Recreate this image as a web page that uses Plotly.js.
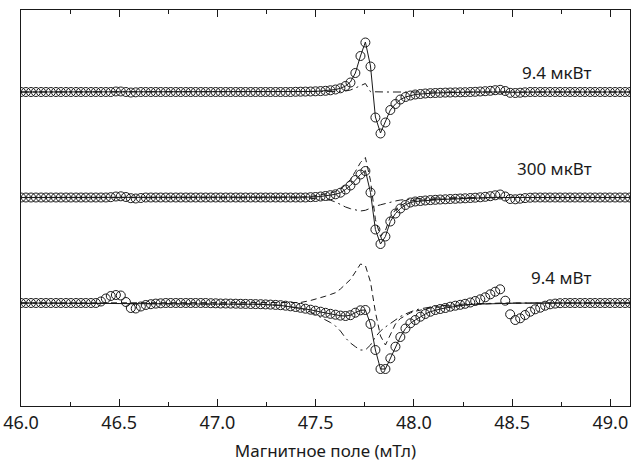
<!DOCTYPE html>
<html>
<head>
<meta charset="utf-8">
<script src="https://cdn.plot.ly/plotly-3.0.1.min.js"></script>
<style>
  html, body { margin: 0; padding: 0; background: #fff; }
  #chart { width: 633px; height: 466px; }
</style>
</head>
<body>
<div id="chart"></div>
<script>
// Field sweep (mT) of the recorded spectra
const field = [
  46.000, 46.025, 46.051, 46.076, 46.102, 46.127, 46.152, 46.178, 46.203, 46.229,
  46.254, 46.280, 46.305, 46.330, 46.356, 46.381, 46.407, 46.432, 46.457, 46.483,
  46.508, 46.534, 46.559, 46.584, 46.610, 46.635, 46.661, 46.686, 46.711, 46.737,
  46.762, 46.788, 46.813, 46.839, 46.864, 46.889, 46.915, 46.940, 46.966, 46.991,
  47.016, 47.042, 47.067, 47.093, 47.118, 47.143, 47.169, 47.194, 47.220, 47.245,
  47.270, 47.296, 47.321, 47.347, 47.372, 47.398, 47.423, 47.448, 47.474, 47.499,
  47.525, 47.550, 47.575, 47.601, 47.626, 47.652, 47.677, 47.702, 47.728, 47.753,
  47.779, 47.804, 47.830, 47.855, 47.880, 47.906, 47.931, 47.957, 47.982, 48.007,
  48.033, 48.058, 48.084, 48.109, 48.134, 48.160, 48.185, 48.211, 48.236, 48.261,
  48.287, 48.312, 48.338, 48.363, 48.389, 48.414, 48.439, 48.465, 48.490, 48.516,
  48.541, 48.566, 48.592, 48.617, 48.643, 48.668, 48.693, 48.719, 48.744, 48.770,
  48.795, 48.820, 48.846, 48.871, 48.897, 48.922, 48.948, 48.973, 48.998, 49.024,
  49.049, 49.075, 49.100
];

// Measured EPR signal (arb. units), 9.4 µW
const signalLow = [
  0, 0, 0, 0, 0, 0, 0, 0, 0, 0,
  0, 0, 0, 0, 0, 0, 0, 0, 0, 0.5,
  0.5, 0, -0.5, -0.3, 0, 0, 0, 0, 0, 0,
  0, 0, 0, 0, 0, 0, 0, 0, 0, 0,
  0, 0, 0, 0, 0, 0, 0, 0, 0, 0,
  0, 0, 0, 0, 0, 0.2, 0.3, 0.4, 0.5, 0.7,
  0.9, 1.2, 1.7, 2.5, 3.7, 6, 9.5, 19, 36, 49.5,
  25.5, -25.5, -41.5, -30.5, -18, -12, -7.5, -5, -3.5, -2.5,
  -2, -1.5, -1.2, -1, -0.8, -0.6, -0.5, -0.4, -0.3, -0.2,
  0, 0.2, 0.5, 0.8, 1.2, 1.8, 2.2, 1, -0.8, -1,
  -0.7, -0.3, 0, 0, 0, 0, 0, 0, 0, 0,
  0, 0, 0, 0, 0, 0, 0, 0, 0, 0,
  0, 0, 0
];

// Measured EPR signal, 300 µW
const signalMid = [
  0, 0, 0, 0, 0, 0, 0, 0, 0, 0,
  0, 0, 0, 0, 0, 0, 0, 0, 0.3, 1,
  1.2, 0.5, -0.7, -1, -0.5, 0, 0, 0, 0, 0,
  0, 0, 0, 0, 0, 0, 0, 0, 0, 0,
  0, 0, 0, 0, 0, 0, 0, 0, 0, 0,
  0, 0, 0, 0, 0, 0, 0, 0, 0.3, 0.5,
  1, 1.5, 2.3, 3.2, 4.8, 8, 12, 17.5, 23, 26.5,
  5, -32, -46.5, -39, -24, -16, -11, -7.5, -5, -4,
  -3.5, -3, -2.6, -2.3, -2, -1.8, -1.5, -1.3, -1, -0.8,
  -0.5, -0.2, 0.2, 0.7, 1.3, 2.2, 3, 1, -1.5, -1.8,
  -1.2, -0.6, -0.2, 0, 0, 0, 0, 0, 0, 0,
  0, 0, 0, 0, 0, 0, 0, 0, 0, 0,
  0, 0, 0
];

// Measured EPR signal, 9.4 mW
const signalHigh = [
  0, 0, 0, 0, 0, 0, 0, 0, 0, 0,
  0, 0, 0, 0, 0, 0, 1.5, 4.5, 7, 8,
  7.5, 1, -5, -5.5, -3.5, -2, -1.2, -0.6, -0.3, 0,
  0, 0, 0, 0, 0, 0, 0, 0, -0.2, -0.3,
  -0.5, -0.5, -0.6, -0.7, -0.8, -0.9, -1, -1.1, -1.2, -1.4,
  -1.6, -1.9, -2.2, -2.7, -3.3, -4, -4.8, -5.7, -6.7, -7.7,
  -8.7, -9.8, -10.8, -11.7, -12.6, -13, -12.2, -9.7, -7.3, -7,
  -21, -47, -66, -66, -55.3, -43.7, -34, -25.5, -20.3, -17,
  -13.7, -11, -8.7, -7, -6, -5, -3.7, -2.7, -1.8, -0.8,
  0.5, 2, 3.7, 5.7, 8.7, 11.3, 13.7, 2.3, -11.3, -17,
  -15.3, -12, -8.7, -6.3, -4.7, -2.7, -1.3, -0.6, -0.2, 0,
  0, 0, 0, 0, 0, 0, 0, 0, 0, 0,
  0, 0, 0
];

// Field points of the simulated curves
const fieldSim = [
  46.000, 47.000, 47.220, 47.321, 47.423, 47.474, 47.525, 47.550, 47.575, 47.601,
  47.626, 47.652, 47.677, 47.702, 47.728, 47.753, 47.779, 47.804, 47.830, 47.855,
  47.880, 47.906, 47.931, 47.957, 47.982, 48.007, 48.033, 48.058, 48.084, 48.109,
  48.134, 48.160, 48.211, 48.261, 48.312, 48.363, 48.414, 48.465, 48.516, 48.566,
  48.643, 48.744, 49.100
];

// 9.4 µW: total fit and broad component
const fitLow = [
  0, 0, 0, 0.1, 0.3, 0.5, 0.9, 1.2, 1.7, 2.5,
  3.7, 6, 10, 19, 36, 50, 26, -25, -41, -30,
  -18, -12, -7.5, -5, -3.5, -2.5, -2, -1.5, -1.2, -1,
  -0.8, -0.6, -0.4, -0.2, 0, 0, 0.3, 0, -0.3, 0,
  0, 0, 0
];
const broadLow = [
  0, 0, 0, 0, 0, 0, 0, 0, 0, 0.3,
  0.6, 1, 2, 4, 6, 8.5, 0.3, 0, 0, 0,
  0, 0, 0, 0, 0, 0, 0, 0, 0, 0,
  0, 0, 0, 0, 0, 0, 0, 0, 0, 0,
  0, 0, 0
];

// 300 µW: total fit, narrow and broad components
const fitMid = [
  0, 0, 0, 0, 0.1, 0.4, 1, 1.5, 2.3, 3.2,
  4.8, 8, 12, 17.5, 23, 27, 5, -32, -46.5, -39,
  -24, -16, -11, -7.5, -5, -4, -3.5, -3, -2.6, -2.3,
  -2, -1.8, -1.3, -0.8, -0.4, 0, 0.2, 0, -0.2, 0,
  0, 0, 0
];
const narrowMid = [
  0, 0, 0, 0, 0.3, 1, 2.5, 3.5, 4.5, 6,
  8.5, 12.5, 18, 26, 35, 40, 17, -22, -39, -33,
  -19, -12.5, -8.5, -5.5, -3.5, -2.8, -2.5, -2.2, -2, -1.8,
  -1.6, -1.5, -1.1, -0.7, -0.4, 0, 0.2, 0, 0, 0,
  0, 0, 0
];
const broadMid = [
  0, 0, 0, 0, -0.3, -0.8, -1.5, -2, -2.7, -4.5,
  -7, -9.5, -11.2, -12.7, -13.5, -12.8, -10.5, -8.7, -7.3, -5.8,
  -4.8, -3.5, -2.5, -2, -1.5, -1.2, -1, -0.8, -0.6, -0.5,
  -0.4, -0.3, -0.2, -0.1, 0, 0, 0, 0, 0, 0,
  0, 0, 0
];

// 9.4 mW: total fit, narrow and broad components
const fitHigh = [
  0, -0.5, -1.3, -2.4, -5, -6.8, -9, -10, -11, -12,
  -12.7, -13, -12.2, -9.7, -7.3, -7, -21, -47, -66, -66,
  -55.3, -43.7, -34, -25.5, -20.3, -17, -13.7, -11, -8.7, -7,
  -6, -5, -3.2, -2, -1.2, -0.8, -0.5, -0.3, -0.2, -0.1,
  0, 0, 0
];
const narrowHigh = [
  0, 0, 0, 0, 0.5, 2.5, 5, 6.8, 8.5, 10.3,
  14, 19, 23.5, 31, 39, 37.5, 21, -9, -33, -42,
  -31, -21, -15.5, -12.3, -10, -8.2, -7, -5.8, -5, -4.4,
  -3.8, -3.3, -2.5, -1.8, -1.2, -0.8, -0.4, -0.2, -0.1, 0,
  0, 0, 0
];
const broadHigh = [
  0, -0.5, -1.3, -2.4, -5.4, -9, -14, -17, -19.5, -23,
  -28, -35, -40, -43.7, -47, -47, -42, -34, -28, -24,
  -20.3, -16.5, -13.5, -11, -9, -7, -5.8, -4.8, -4, -3.3,
  -2.8, -2.3, -1.6, -1, -0.6, -0.3, -0.1, 0, 0, 0,
  0, 0, 0
];

const powerLabels = ['9.4 мкВт', '300 мкВт', '9.4 мВт'];

// vertical offsets that stack the three spectra
const stack = [314, 208.5, 103];
const shift = (arr, k) => arr.map(v => v + stack[k]);

const ink = '#1a1a1a';
const lineOf = (x, y, k, dash) => ({
  x: x, y: shift(y, k), type: 'scatter', mode: 'lines',
  line: { color: ink, width: 1, dash: dash },
  hoverinfo: 'skip', showlegend: false
});
const pointsOf = (y, k) => ({
  x: field, y: shift(y, k), type: 'scatter', mode: 'markers',
  marker: { symbol: 'circle-open', size: 9, color: ink, line: { width: 1, color: ink } },
  showlegend: false
});

const DASHDOT = '8px,4px,2px,4px';
const DASHED = '6px,4px';

const traces = [
  lineOf(fieldSim, broadLow, 0, DASHDOT),
  lineOf(fieldSim, fitLow, 0, 'solid'),
  lineOf(fieldSim, broadMid, 1, DASHDOT),
  lineOf(fieldSim, narrowMid, 1, DASHED),
  lineOf(fieldSim, fitMid, 1, 'solid'),
  lineOf(fieldSim, broadHigh, 2, DASHDOT),
  lineOf(fieldSim, narrowHigh, 2, DASHED),
  lineOf(fieldSim, fitHigh, 2, 'solid'),
  pointsOf(signalLow, 0),
  pointsOf(signalMid, 1),
  pointsOf(signalHigh, 2)
];

const labelY = [334, 238, 129];
const annotations = powerLabels.map((t, k) => ({
  x: 48.915, y: labelY[k], xref: 'x', yref: 'y',
  text: t, showarrow: false, xanchor: 'right', yanchor: 'middle',
  font: { family: 'Noto Sans, sans-serif', size: 17, color: ink }
}));

const layout = {
  width: 633, height: 466,
  margin: { l: 21, r: 3, t: 10, b: 60 },
  paper_bgcolor: '#fff', plot_bgcolor: '#fff',
  showlegend: false,
  font: { family: 'Noto Sans, sans-serif', color: ink },
  xaxis: {
    range: [46.0, 49.1], tick0: 46, dtick: 0.5, tickformat: '.1f',
    ticks: 'inside', ticklen: 7, tickwidth: 1, tickcolor: ink,
    minor: { dtick: 0.25, ticks: 'inside', ticklen: 4, tickwidth: 1, tickcolor: ink },
    showline: true, linecolor: ink, linewidth: 1, mirror: 'allticks',
    showgrid: false, zeroline: false,
    tickfont: { size: 18, color: ink },
    title: { text: 'Магнитное поле (мТл)', font: { size: 17, color: ink }, standoff: 12 }
  },
  yaxis: {
    range: [0, 396], showticklabels: false, ticks: '',
    showline: true, linecolor: ink, linewidth: 1, mirror: true,
    showgrid: false, zeroline: false
  },
  annotations: annotations
};

Plotly.newPlot('chart', traces, layout, { staticPlot: true, displayModeBar: false });
</script>
</body>
</html>
